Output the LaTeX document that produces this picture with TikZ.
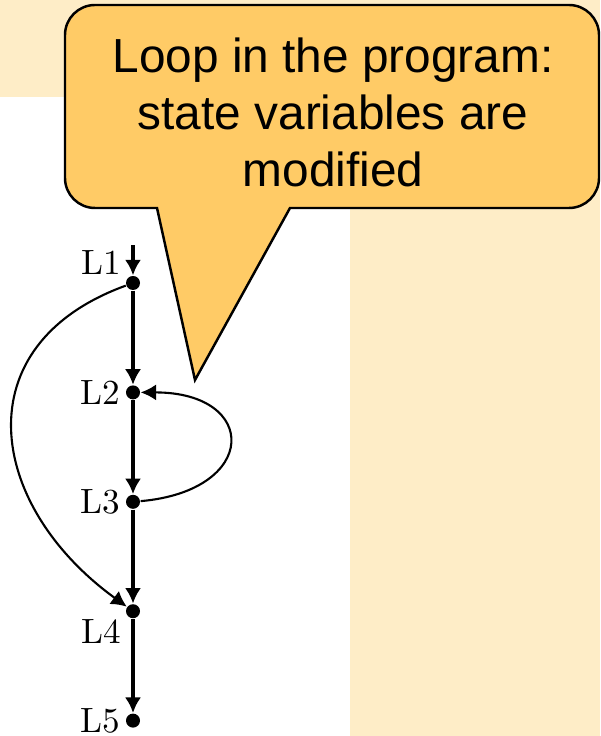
\documentclass[tikz,border=0pt]{standalone}
\usepackage{fontspec}
\usetikzlibrary{arrows.meta, positioning}
\newfontfamily\calloutFont{Liberation Sans}
\definecolor{bgCream}{HTML}{FEEDC7}
\definecolor{noteGold}{HTML}{FFCB66}
\tikzset{
  dotN/.style={circle, fill=black, inner sep=0pt, minimum size=0.14cm},
  arrowV/.style={-{Latex[length=4.4pt, width=4.6pt]}, black, line width=0.9pt},
  arrowC/.style={-{Latex[length=4.4pt, width=4.6pt]}, black, semithick},
  noteBox/.style={draw=black, line width=0.7pt, fill=noteGold},
  every label/.style={inner sep=1.2pt},
}

\begin{document}
\begin{tikzpicture}[node distance=0.94cm]
  % background
  \fill[white] (0,0) rectangle (6,7.36);
  \fill[bgCream] (0,6.39) rectangle (6,7.36);
  \fill[bgCream] (3.5,0) rectangle (6,7.36);
  \useasboundingbox (0,0) rectangle (6,7.36);
  % callout
  \draw[noteBox] (1.57,5.28) [rounded corners=0.3cm] -- (0.65,5.28) -- (0.65,7.31)
    -- (5.99,7.31) -- (5.99,5.28) [sharp corners] -- (2.90,5.28) -- (1.95,3.56) -- cycle;
  \node[font=\calloutFont\fontsize{13.6}{16.2}\selectfont, align=center] (note)
    at (3.33,6.24) {Loop in the program:\\state variables are\\modified};
  % control flow graph
  \node[dotN, label={150:L1}] (l1) at (1.33,4.53) {};
  \node[dotN, below=of l1, label=left:L2] (l2) {};
  \node[dotN, below=of l2, label=left:L3] (l3) {};
  \node[dotN, below=of l3, label=210:L4] (l4) {};
  \node[dotN, below=of l4, label=left:L5] (l5) {};
  \coordinate[above=0.3cm of l1] (entry);
  \draw[arrowV] (entry) -- (l1);
  \foreach \a/\b in {l1/l2, l2/l3, l3/l4, l4/l5}
    \draw[arrowV] (\a) -- (\b);
  \draw[arrowC] (l1) to[out=200, in=144, looseness=1.38] (l4);
  \draw[arrowC] (l3) to[out=5, in=0, looseness=2.8] (l2);
\end{tikzpicture}
\end{document}
